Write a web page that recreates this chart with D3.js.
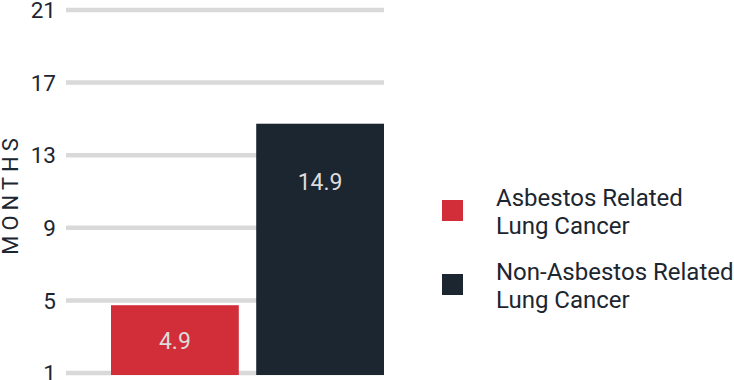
<!DOCTYPE html>
<html>
<head>
<meta charset="utf-8">
<script src="https://cdn.jsdelivr.net/npm/d3@7"></script>
<style>
  html, body { margin: 0; padding: 0; background: #fff; }
  svg { display: block; font-family: Roboto, "Noto Sans", sans-serif; }
</style>
</head>
<body>
<svg id="chart" width="734" height="380"></svg>
<script>
const categories = ["Asbestos Related Lung Cancer", "Non-Asbestos Related Lung Cancer"];
const legendLines = [["Asbestos Related", "Lung Cancer"], ["Non-Asbestos Related", "Lung Cancer"]];
const values = [4.9, 14.9];
const colors = ["#d22e3a", "#1c2630"];
const tickValues = [1, 5, 9, 13, 17, 21];
const axisTitle = "MONTHS";

const svg = d3.select("#chart");
const textColor = "#1c2630";

const y = d3.scaleLinear().domain([1, 21]).range([376, 13]);
const gridOffset = -3;

// gridlines
svg.append("g").selectAll("line").data(tickValues).join("line")
  .attr("x1", 66).attr("x2", 384)
  .attr("y1", d => y(d) + gridOffset).attr("y2", d => y(d) + gridOffset)
  .attr("stroke", "#d9d9d9").attr("stroke-width", 4.5);

// tick labels via axis
const axis = d3.axisLeft(y).tickValues(tickValues).tickSize(0).tickPadding(0).tickFormat(d3.format("d"));
const ag = svg.append("g").attr("transform", `translate(56,${gridOffset})`).call(axis);
ag.select(".domain").remove();
ag.selectAll("text").attr("fill", textColor).style("font-size", "22.5px").style("font-family", "Roboto, sans-serif").attr("dy", "0.34em");

// axis title
svg.append("text")
  .attr("transform", "translate(18,194) rotate(-90)")
  .attr("text-anchor", "middle")
  .attr("fill", textColor)
  .style("font-size", "22px")
  .style("letter-spacing", "5px")
  .text(axisTitle);

// bars
const barX = d3.scaleBand().domain(categories).range([111, 384]).paddingInner(0.12).paddingOuter(0);
const bottom = 375;
svg.append("g").selectAll("rect").data(values).join("rect")
  .attr("x", (d, i) => barX(categories[i]))
  .attr("width", barX.bandwidth())
  .attr("y", d => y(d))
  .attr("height", d => bottom - y(d))
  .attr("fill", (d, i) => colors[i]);

svg.append("g").selectAll("text").data(values).join("text")
  .attr("x", (d, i) => barX(categories[i]) + barX.bandwidth() / 2)
  .attr("y", d => Math.min(y(d) + 66, (y(d) + bottom) / 2 + 8.5))
  .attr("text-anchor", "middle")
  .attr("fill", "#dcdcdc")
  .style("font-size", "23px")
  .text(d => d3.format(".1f")(d));

// legend
const lg = svg.append("g").selectAll("g").data(categories).join("g")
  .attr("transform", (d, i) => `translate(442,${200 + i * 74})`);
lg.append("rect").attr("width", 21).attr("height", 21).attr("fill", (d, i) => colors[i]);
lg.append("text")
  .attr("x", 54).attr("y", 6)
  .attr("fill", textColor)
  .style("font-size", "24px")
  .selectAll("tspan").data((d, i) => legendLines[i]).join("tspan")
  .attr("x", 54).attr("dy", (d, j) => j === 0 ? 0 : 28)
  .text(d => d);
</script>
</body>
</html>
